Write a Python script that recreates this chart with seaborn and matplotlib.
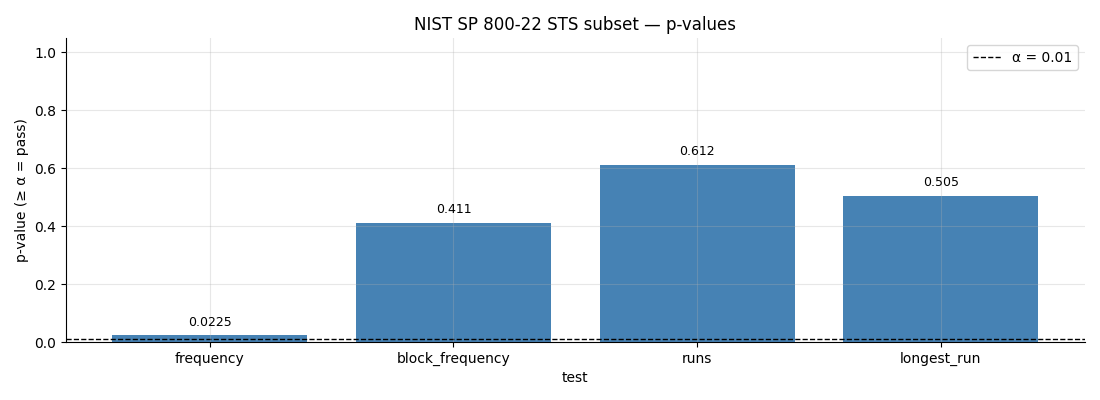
import matplotlib
matplotlib.use("Agg")
import matplotlib.pyplot as plt
import seaborn as sns
import pandas as pd

tests = ["frequency", "block_frequency", "runs", "longest_run"]
pvalues = [0.0225, 0.411, 0.612, 0.505]
labels = ["0.0225", "0.411", "0.612", "0.505"]
alpha = 0.01

plt.rcParams['font.family'] = ['DejaVu Sans']

df = pd.DataFrame({"test": tests, "p": pvalues})
fig, ax = plt.subplots(figsize=(11, 4), dpi=100)
sns.barplot(data=df, x="test", y="p", color="steelblue", saturation=1, width=0.8,
            linewidth=0, ax=ax)
for i, (v, t) in enumerate(zip(pvalues, labels)):
    ax.annotate(t, (i, v), xytext=(0, 5), textcoords="offset points", ha="center", va="bottom", fontsize=9)
ax.axhline(alpha, color="black", linestyle="--", linewidth=1, label="α = 0.01")
ax.set_xlim(-0.59, len(tests) - 1 + 0.59)
ax.set_ylim(0, 1.05)
ax.set_xlabel("test")
ax.set_ylabel("p-value (≥ α = pass)")
ax.set_title("NIST SP 800-22 STS subset — p-values")
ax.grid(True, alpha=0.3)
ax.set_axisbelow(False)
sns.despine(ax=ax)
ax.legend(loc="upper right")
fig.subplots_adjust(left=0.06, right=0.986, top=0.905, bottom=0.145)
fig.savefig("out.png", dpi=100)
